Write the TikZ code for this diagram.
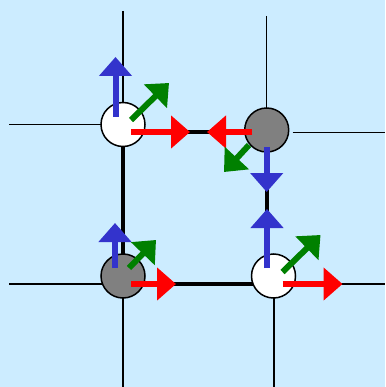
\documentclass[tikz,border=0pt]{standalone}
\usetikzlibrary{arrows.meta}
\usetikzlibrary{backgrounds}

\definecolor{sky}{RGB}{204,236,255}
\definecolor{spinblue}{RGB}{51,51,204}
\definecolor{spingreen}{RGB}{0,128,0}

\tikzset{
  site/.style={circle,draw=black,line width=1.5pt,minimum size=44pt,inner sep=0pt},
  upsite/.style={site,fill=white},
  downsite/.style={site,fill=gray},
  lattice/.style={line width=1.5pt},
  bond/.style={line width=4pt},
  spin/.style={line width=6pt,-{Triangle[length=19pt,width=32pt]}}
}

\begin{document}
\begin{tikzpicture}[x=1pt,y=-1pt]
\useasboundingbox (0,0) rectangle (385,387);
% the four sites
\node[upsite]   (nw) at (123,124.5) {};
\node[downsite] (ne) at (266.7,130) {};
\node[downsite] (sw) at (123,276) {};
\node[upsite]   (se) at (273.5,276) {};
% free ends of the lattice lines
\coordinate (nwT) at (123,11);
\coordinate (nwL) at (9,124.5);
\coordinate (neT) at (266.7,16);
\coordinate (neR) at (385,132.5);
\coordinate (swL) at (9,284);
\coordinate (swB) at (123,387);
\coordinate (seR) at (385,284);
\coordinate (seB) at (274,387);
\begin{pgfonlayer}{background}
\fill[sky] (0,0) rectangle (385,387);
\draw[lattice] (nwT) -- (nw.center) -- (nwL);
\draw[lattice] (neT) -- (ne.center);
\draw[lattice] ([xshift=26pt,yshift=-2.5pt]ne.center) -- (neR);
\draw[lattice] (swL) -- ([yshift=-8pt]sw.center);
\draw[lattice] (sw.center) -- (swB);
\draw[lattice] ([yshift=-8pt]se.center) -- (seR);
\draw[lattice] ([xshift=0.5pt]se.center) -- (seB);
% the plaquette
\draw[bond] ([yshift=-7.5pt]nw.center) -- ([yshift=-2pt]ne.center);
\draw[bond] (nw.center) -- (sw.center);
\draw[bond] ([yshift=-8pt]sw.center) -- ([yshift=-8pt]se.center);
\draw[bond] (ne.center) -- (ne.center |- se.center);
\end{pgfonlayer}
% spins
\draw[spin,spinblue]  ([shift={(-7.5,-7.5)}]nw.center) -- ++(0,-60);
\draw[spin,spingreen] ([shift={(8,-4.5)}]nw.center) -- ++(38,-37);
\draw[spin,red]       ([shift={(8,7.5)}]nw.center) -- ++(59,0);
\draw[spin,red]       ([shift={(-14.7,2)}]ne.center) -- ++(-45,0);
\draw[spin,spingreen] ([shift={(-17.7,15)}]ne.center) -- ++(-25,27);
\draw[spin,spinblue]  ([shift={(0,17)}]ne.center) -- ++(0,45);
\draw[spin,spinblue]  ([shift={(-8,-8)}]sw.center) -- ++(0,-45);
\draw[spin,spingreen] ([shift={(6,-8)}]sw.center) -- ++(27,-28);
\draw[spin,red]       ([shift={(8,8)}]sw.center) -- ++(45,0);
\draw[spin,spinblue]  ([shift={(-6.5,-8)}]se.center) -- ++(0,-59);
\draw[spin,spingreen] ([shift={(9,-4)}]se.center) -- ++(38,-37);
\draw[spin,red]       ([shift={(9,8)}]se.center) -- ++(60,0);
\end{tikzpicture}
\end{document}
